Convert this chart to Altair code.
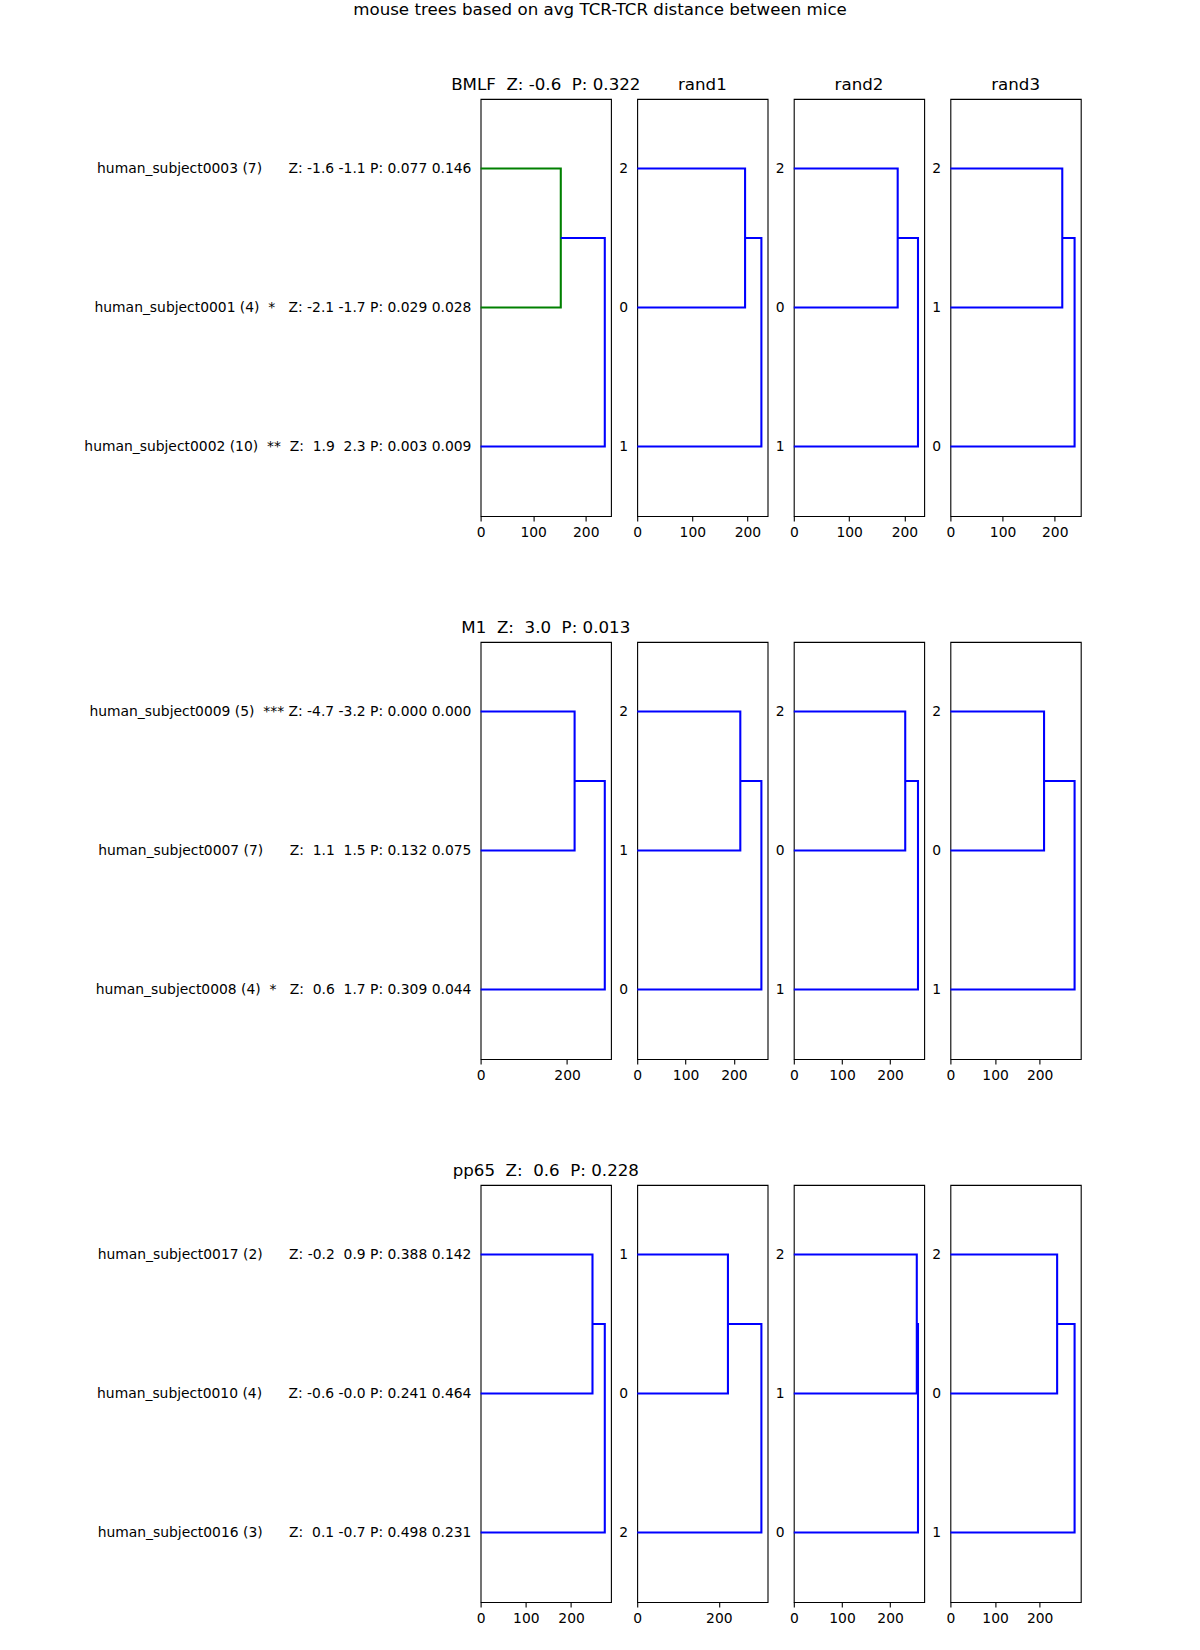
import json
import altair as alt
import pandas as pd

NB = "\u00a0"
FONT = "DejaVu Sans"
BLUE = "#0000ff"
GREEN = "#008000"

suptitle = "mouse trees based on avg TCR-TCR distance between mice"
epitopes = ["BMLF", "M1", "pp65"]
epitope_z = [-0.6, 3.0, 0.6]
epitope_p = [0.322, 0.013, 0.228]
rand_titles = ["rand1", "rand2", "rand3"]

# leaves of the first (real) tree of each row, listed top to bottom
subjects = [
    ["human_subject0003", "human_subject0001", "human_subject0002"],
    ["human_subject0009", "human_subject0007", "human_subject0008"],
    ["human_subject0017", "human_subject0010", "human_subject0016"],
]
counts = [[7, 4, 10], [5, 7, 4], [2, 4, 3]]
stars = [["", "*", "**"], ["***", "", "*"], ["", "", ""]]
z1 = [[-1.6, -2.1, 1.9], [-4.7, 1.1, 0.6], [-0.2, -0.6, 0.1]]
z2 = [[-1.1, -1.7, 2.3], [-3.2, 1.5, 1.7], [0.9, -0.0, -0.7]]
p1 = [[0.077, 0.029, 0.003], [0.000, 0.132, 0.309], [0.388, 0.241, 0.498]]
p2 = [[0.146, 0.028, 0.009], [0.000, 0.075, 0.044], [0.142, 0.464, 0.231]]

# leaf labels of the randomised trees (top to bottom)
rand_leaves = [
    [[2, 0, 1], [2, 0, 1], [2, 1, 0]],
    [[2, 1, 0], [2, 0, 1], [2, 0, 1]],
    [[1, 0, 2], [2, 1, 0], [2, 0, 1]],
]

# merge heights: first merge (top two leaves) and root merge
first_merge = [
    [152.5, 195.7, 187.8, 214.4],
    [217.4, 213.2, 231.4, 209.8],
    [247.4, 222.4, 255.4, 239.1],
]
root_merge = [
    [236.2, 225.3, 224.5, 238.0],
    [287.2, 256.8, 257.9, 278.2],
    [274.6, 304.4, 257.9, 278.2],
]
x_ticks = [
    [[0, 100, 200], [0, 100, 200], [0, 100, 200], [0, 100, 200]],
    [[0, 200], [0, 100, 200], [0, 100, 200], [0, 100, 200]],
    [[0, 100, 200], [0, 200], [0, 100, 200], [0, 100, 200]],
]

W = 130.4
H = 417.1
FRAME = 1.1
HSP = 25.6
LEFT = 480.0
TOP = 99.0
VGAP = 125.1
SUP_Y = 15.0

TICK = 4.86
LBL = 13.89
TTL = 16.67
TITLE_OFFSET = -7.7


def nb(s):
    return s.replace(" ", NB)


def leaf_label(r, i):
    s = "{} ({})  {:<3s} Z:{:5.1f}{:5.1f} P: {:.3f} {:.3f}".format(
        subjects[r][i], counts[r][i], stars[r][i], z1[r][i], z2[r][i], p1[r][i], p2[r][i]
    )
    return nb(s)


NOFRAME = alt.ViewBackground(strokeOpacity=0, strokeWidth=0)


def blank(w, h):
    return alt.Chart(pd.DataFrame({"t": [""]})).mark_text().encode(
        text="t:N"
    ).properties(width=w, height=h, view=NOFRAME)


def panel(r, c):
    h1 = first_merge[r][c]
    h2 = root_merge[r][c]
    c1 = GREEN if h1 <= 0.7 * h2 else BLUE  # scipy default colour threshold
    pts = [
        ("a", 0, 0.0, 25, c1), ("a", 1, h1, 25, c1), ("a", 2, h1, 15, c1), ("a", 3, 0.0, 15, c1),
        ("b", 0, h1, 20, BLUE), ("b", 1, h2, 20, BLUE), ("b", 2, h2, 5, BLUE), ("b", 3, 0.0, 5, BLUE),
    ]
    df = pd.DataFrame(pts, columns=["link", "ord", "x", "y", "col"])
    if c == 0:
        labels = [leaf_label(r, i) for i in range(3)]
    else:
        labels = [str(v) for v in rand_leaves[r][c - 1]]
    expr = json.dumps(labels, ensure_ascii=False) + "[round((25 - datum.value) / 10)]"

    props = dict(width=W, height=H)
    ttl = None
    if c == 0:
        ttl = nb("{}  Z:{:5.1f}  P: {:.3f}".format(epitopes[r], epitope_z[r], epitope_p[r]))
    elif r == 0:
        ttl = rand_titles[c - 1]
    if ttl is not None:
        props["title"] = alt.TitleParams(
            text=ttl, font=FONT, fontSize=TTL, fontWeight="normal", color="black",
            anchor="middle", frame="group", baseline="alphabetic", offset=TITLE_OFFSET,
        )

    return alt.Chart(df).mark_line(strokeWidth=2.08, strokeJoin="miter").encode(
        x=alt.X(
            "x:Q",
            scale=alt.Scale(domain=[0, 1.05 * h2], nice=False, zero=True),
            axis=alt.Axis(
                values=x_ticks[r][c], format="d", title=None, grid=False, domain=False,
                ticks=True, tickSize=TICK, tickWidth=1.1, tickColor="black",
                labelPadding=TICK, labelFontSize=LBL, labelFont=FONT, labelColor="black",
                labelFlush=False, labelOverlap=False,
            ),
        ),
        y=alt.Y(
            "y:Q",
            scale=alt.Scale(domain=[0, 30], nice=False, zero=True),
            axis=alt.Axis(
                values=[5, 15, 25], labelExpr=expr, title=None, grid=False, domain=False,
                ticks=True, tickSize=TICK, tickOpacity=0, labelPadding=TICK,
                labelFontSize=LBL, labelFont=FONT, labelColor="black",
                labelFlush=False, labelOverlap=False, labelLimit=2000,
            ),
        ),
        color=alt.Color("col:N", scale=None),
        detail="link:N",
        order="ord:Q",
    ).properties(**props)


header = alt.Chart(pd.DataFrame({"t": [suptitle]})).mark_text(
    font=FONT, fontSize=TTL, baseline="alphabetic", align="center", color="black"
).encode(
    text="t:N", x=alt.value(600), y=alt.value(SUP_Y)
).properties(width=LEFT - HSP, height=TOP, view=NOFRAME)

cells = [header] + [blank(W, TOP) for _ in range(4)]
for r in range(3):
    cells.append(blank(LEFT - HSP, H + VGAP if r < 2 else H))
    cells.extend(panel(r, c) for c in range(4))

chart = alt.concat(
    *cells, columns=5, spacing={"row": 0, "column": HSP}, bounds="flush",
).properties(padding=0).configure(font=FONT).configure_view(stroke="black", strokeWidth=FRAME)

chart.save("out.html", embed_options={"renderer": "svg", "actions": False})
